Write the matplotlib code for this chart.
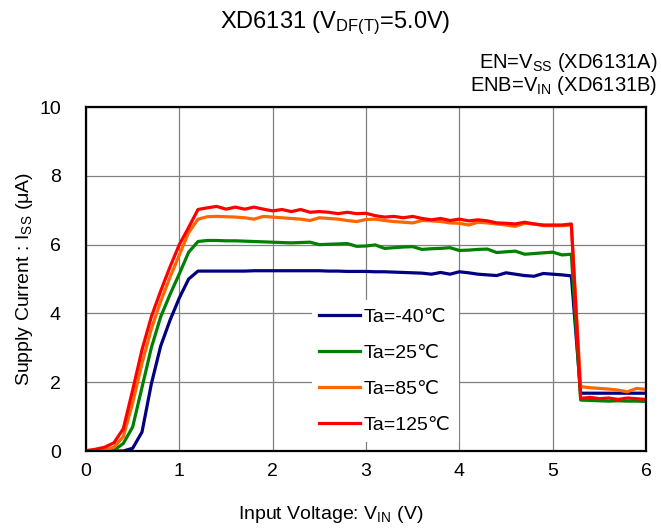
import matplotlib
matplotlib.use("Agg")
from matplotlib import pyplot as plt

plt.rcParams['font.family'] = ['Liberation Sans', 'DejaVu Sans']
plt.rcParams['mathtext.fontset'] = 'custom'
plt.rcParams['mathtext.rm'] = 'Liberation Sans'
plt.rcParams['mathtext.it'] = 'Liberation Sans:italic'

# Input voltage samples (V)
vin = [0.0, 0.1, 0.2, 0.3, 0.4, 0.5, 0.6, 0.7, 0.8, 0.9,
       1.0, 1.1, 1.2, 1.3, 1.4, 1.5, 1.6, 1.7, 1.8, 1.9,
       2.0, 2.1, 2.2, 2.3, 2.4, 2.5, 2.6, 2.7, 2.8, 2.9,
       3.0, 3.1, 3.2, 3.3, 3.4, 3.5, 3.6, 3.7, 3.8, 3.9,
       4.0, 4.1, 4.2, 4.3, 4.4, 4.5, 4.6, 4.7, 4.8, 4.9,
       5.0, 5.1, 5.2, 5.3, 5.4, 5.5, 5.6, 5.7, 5.8, 5.9, 6.0]

# Supply current (uA) per temperature
iss_m40 = [0.0, 0.0, 0.0, 0.0, 0.0, 0.08, 0.55, 1.95, 3.05, 3.8,
           4.45, 5.0, 5.23, 5.23, 5.23, 5.23, 5.23, 5.23, 5.24, 5.24,
           5.24, 5.24, 5.24, 5.24, 5.24, 5.24, 5.23, 5.23, 5.22, 5.22,
           5.22, 5.21, 5.21, 5.20, 5.19, 5.18, 5.17, 5.14, 5.19, 5.14,
           5.21, 5.18, 5.14, 5.12, 5.10, 5.18, 5.14, 5.10, 5.08, 5.16,
           5.14, 5.12, 5.09, 1.68, 1.68, 1.68, 1.68, 1.68, 1.68, 1.68, 1.68]
iss_25 = [0.0, 0.0, 0.0, 0.02, 0.22, 0.7, 1.85, 3.0, 3.9, 4.55,
          5.15, 5.78, 6.09, 6.12, 6.12, 6.11, 6.11, 6.10, 6.09, 6.08,
          6.07, 6.06, 6.05, 6.06, 6.07, 6.00, 6.01, 6.02, 6.03, 5.95,
          5.96, 5.99, 5.89, 5.91, 5.93, 5.94, 5.86, 5.88, 5.89, 5.91,
          5.83, 5.84, 5.86, 5.87, 5.77, 5.79, 5.81, 5.72, 5.74, 5.76,
          5.78, 5.70, 5.72, 1.48, 1.47, 1.46, 1.45, 1.46, 1.45, 1.45, 1.44]
iss_85 = [0.0, 0.0, 0.03, 0.11, 0.42, 1.4, 2.55, 3.55, 4.35, 5.05,
          5.7, 6.35, 6.74, 6.81, 6.82, 6.81, 6.80, 6.78, 6.74, 6.82,
          6.80, 6.78, 6.76, 6.74, 6.70, 6.78, 6.76, 6.74, 6.70, 6.67,
          6.73, 6.74, 6.70, 6.67, 6.65, 6.63, 6.70, 6.69, 6.67, 6.63,
          6.62, 6.57, 6.65, 6.63, 6.60, 6.57, 6.53, 6.62, 6.60, 6.55,
          6.55, 6.55, 6.57, 1.87, 1.84, 1.82, 1.80, 1.77, 1.72, 1.82, 1.79]
iss_125 = [0.01, 0.05, 0.11, 0.24, 0.65, 1.77, 2.94, 3.9, 4.65, 5.35,
           6.0, 6.5, 7.02, 7.07, 7.11, 7.03, 7.09, 7.03, 7.09, 7.03,
           6.98, 7.02, 6.96, 7.02, 6.94, 6.96, 6.94, 6.90, 6.94, 6.90,
           6.91, 6.84, 6.80, 6.82, 6.78, 6.82, 6.76, 6.72, 6.76, 6.70,
           6.74, 6.69, 6.72, 6.69, 6.63, 6.62, 6.60, 6.65, 6.60, 6.57,
           6.57, 6.57, 6.60, 1.53, 1.56, 1.52, 1.54, 1.50, 1.54, 1.52, 1.50]

labels = ['Ta=-40\u2103', 'Ta=25\u2103', 'Ta=85\u2103', 'Ta=125\u2103']
colors = ['#000080', '#008000', '#FF6600', '#FF0000']

fig = plt.figure(figsize=(6.61, 5.28), dpi=100)
ax = fig.add_axes([86 / 661, 1 - 451 / 528, 560 / 661, 344 / 528])

for ys, lab, col in zip([iss_m40, iss_25, iss_85, iss_125], labels, colors):
    ax.plot(vin, ys, color=col, lw=2.3, label=lab)

ax.set_xlim(0, 6)
ax.set_ylim(0, 10)
ax.set_xticks([0, 1, 2, 3, 4, 5, 6])
ax.set_yticks([0, 2, 4, 6, 8, 10])
ax.grid(True, color='#808080', lw=0.9)
ax.set_axisbelow(True)
ax.tick_params(length=0, labelsize=14)
ax.tick_params(axis='y', pad=18)
ax.tick_params(axis='x', pad=9)
for s in ax.spines.values():
    s.set_linewidth(1.6)
    s.set_color('black')

ax.set_xlabel(r'Input Voltage: V$_{\mathrm{IN}}$ (V)', fontsize=14)
ax.xaxis.set_label_coords(0.436, -0.155)
ax.set_ylabel(r'Supply Current : I$_{\mathrm{SS}}$ ($\mathrm{\mu}$A)', fontsize=14, labelpad=3)

fig.text(0.507, 0.955, r'XD6131 (V$_{\mathrm{DF(T)}}$=5.0V)', ha='center', va='center', fontsize=17)
fig.text(0.994, 0.882, r'EN=V$_{\mathrm{SS}}$ (XD6131A)', ha='right', va='center', fontsize=14.5)
fig.text(0.994, 0.839, r'ENB=V$_{\mathrm{IN}}$ (XD6131B)', ha='right', va='center', fontsize=14.5)

leg = ax.legend(loc='center', bbox_to_anchor=(0.534, 0.233), fontsize=14,
                frameon=True, fancybox=False, edgecolor='none', framealpha=1,
                handlelength=2.1, handletextpad=0.2, labelspacing=0.95,
                borderpad=0.4)

fig.savefig('out.png', dpi=100)
